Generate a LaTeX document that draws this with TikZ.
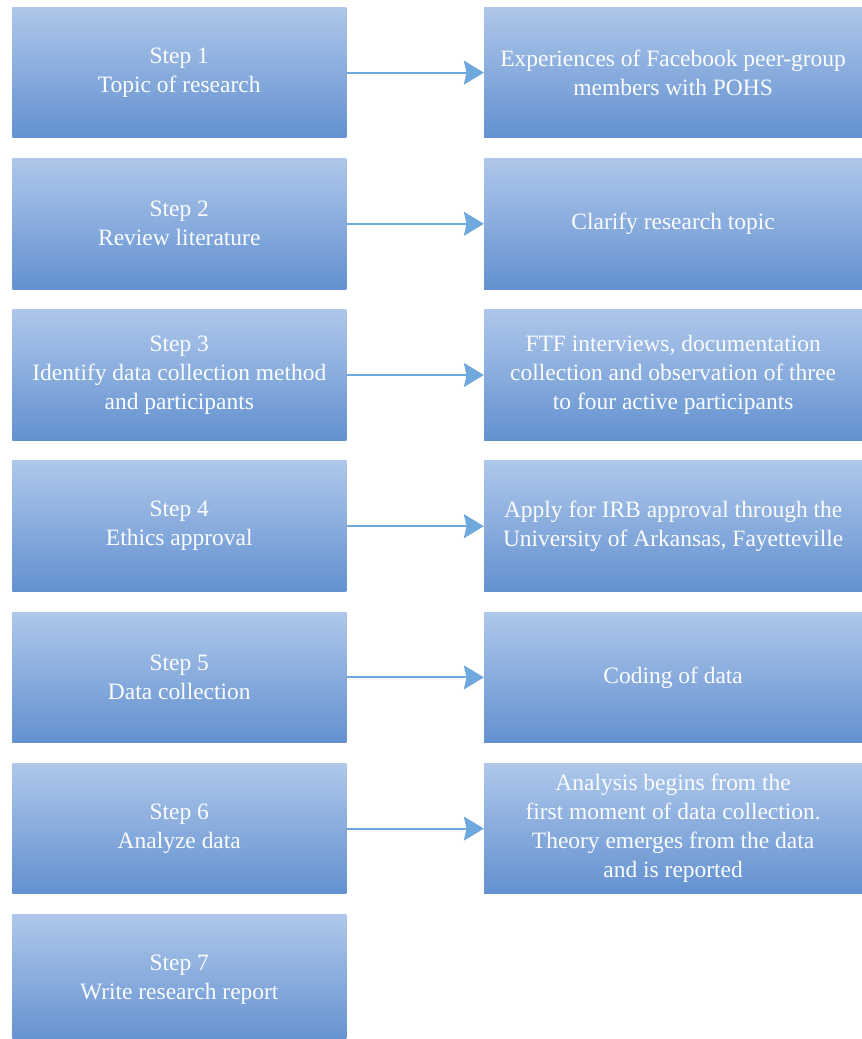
\documentclass[tikz,border=0pt]{standalone}
\usepackage{fontspec}
\setmainfont{Liberation Serif}
\usetikzlibrary{arrows.meta, positioning}

\definecolor{boxtop}{HTML}{AEC7EA}
\definecolor{boxbottom}{HTML}{6391D0}
\definecolor{arrowblue}{HTML}{6FA8DC}

\begin{document}
\begin{tikzpicture}[
		node distance=15pt,
		stepbox/.style={rectangle, minimum width=250.5pt, minimum height=98pt, text centered, align=center, inner sep=0pt,
			top color=boxtop, bottom color=boxbottom, text=white!95!boxtop, font=\fontsize{17.6pt}{21.75pt}\selectfont},
		outbox/.style={stepbox, minimum width=283.5pt},
		flow/.style={-{Stealth[length=15pt, width=18pt, inset=2pt]}, line width=1.5pt, draw=arrowblue}
		]
		\useasboundingbox (0pt,0pt) rectangle (646.5pt,-779.25pt);
		% Nodes
		\node (s1) [stepbox, anchor=north west] at (9pt,-5.25pt) {Step 1\\Topic of research};
		\node (s2) [stepbox, below=of s1] {Step 2\\Review literature};
		\node (s3) [stepbox, below=of s2] {Step 3\\Identify data collection method\\and participants};
		\node (s4) [stepbox, below=of s3] {Step 4\\Ethics approval};
		\node (s5) [stepbox, below=of s4] {Step 5\\Data collection};
		\node (s6) [stepbox, below=of s5] {Step 6\\Analyze data};
		\node (s7) [stepbox, below=of s6] {Step 7\\Write research report};
		
		\node (o1) [outbox, right=103pt of s1] {Experiences of Facebook peer-group\\members with POHS};
		\node (o2) [outbox, right=103pt of s2] {Clarify research topic};
		\node (o3) [outbox, right=103pt of s3] {FTF interviews, documentation\\collection and observation of three\\to four active participants};
		\node (o4) [outbox, right=103pt of s4] {Apply for IRB approval through the\\University of Arkansas, Fayetteville};
		\node (o5) [outbox, right=103pt of s5] {Coding of data};
		\node (o6) [outbox, right=103pt of s6] {Analysis begins from the\\first moment of data collection.\\Theory emerges from the data\\and is reported};
		
		% Arrows
		\draw [flow] (s1) -- (o1);
		\draw [flow] (s2) -- (o2);
		\draw [flow] (s3) -- (o3);
		\draw [flow] (s4) -- (o4);
		\draw [flow] (s5) -- (o5);
		\draw [flow] (s6) -- (o6);
		
	\end{tikzpicture}
\end{document}
